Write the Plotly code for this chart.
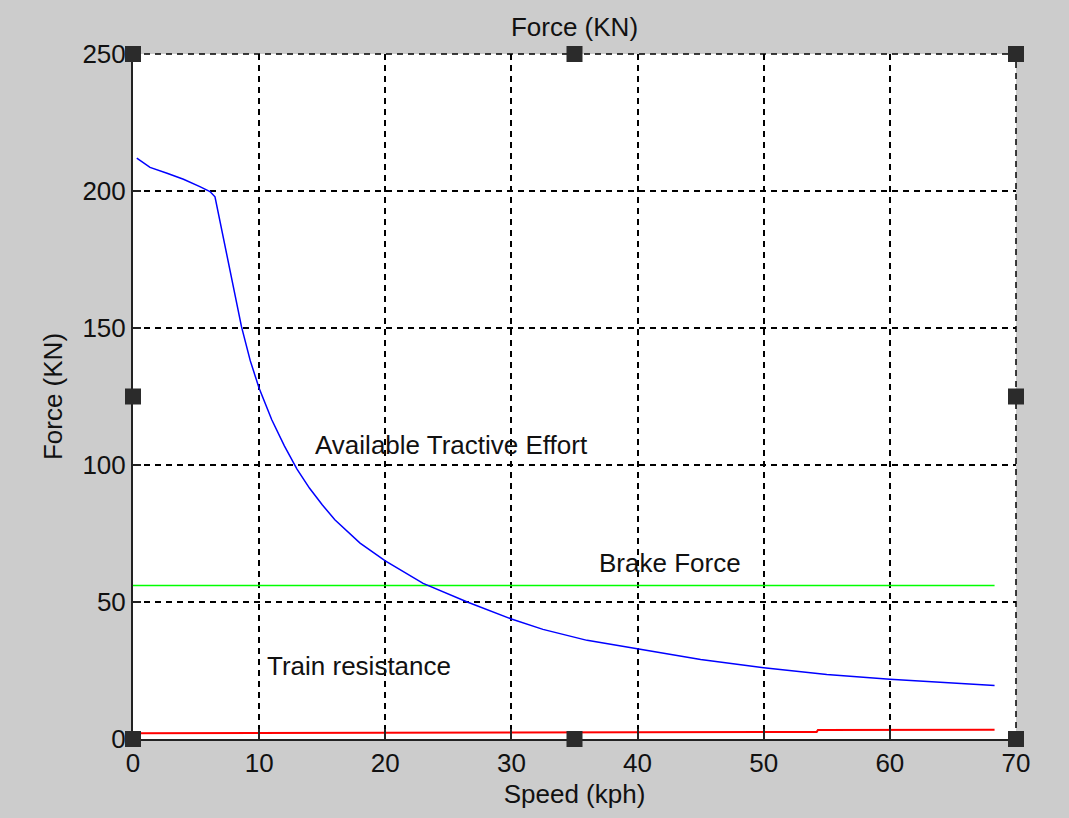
import plotly.graph_objects as go

# ---- data ----
te_speed = [0.3, 1.35, 2.7, 4.0, 5.3, 6.1, 6.5, 6.8, 7.2, 7.45, 7.95, 8.6, 9.3, 10, 11, 12, 13, 14, 15, 16,
            18, 20, 23, 26.5, 30, 32.5, 36, 40, 45, 50, 55, 60, 65, 68.3]
te_force = [212, 208.6, 206.5, 204.3, 201.6, 199.8, 197.9, 191, 182, 176, 165, 150.5, 138, 128, 116.5,
            107, 98.5, 91.5, 85.5, 80, 71.5, 65, 56.8, 50, 43.8, 40, 36, 33, 29, 26, 23.5, 21.8, 20.3, 19.5]

brake_speed = [0, 68.3]
brake_force = [56, 56]

res_speed = [0, 20, 40, 54.2, 54.3, 68.3]
res_force = [2.1, 2.2, 2.4, 2.6, 3.3, 3.4]

x_ticks = [0, 10, 20, 30, 40, 50, 60, 70]
y_ticks = [0, 50, 100, 150, 200, 250]

labels = [("Available Tractive Effort", 14.25, 107.3),
          ("Brake Force", 36.8, 64.2),
          ("Train resistance", 10.5, 26.6)]

FONT = "Liberation Sans, Arial, sans-serif"
FS = 26
BG = "#cccccc"
GRID_DASH = "6px,5px"

fig = go.Figure()
fig.add_trace(go.Scatter(x=res_speed, y=res_force, mode="lines",
                         line=dict(color="#ff0000", width=2), showlegend=False))
fig.add_trace(go.Scatter(x=brake_speed, y=brake_force, mode="lines",
                         line=dict(color="#00ff00", width=1.5), showlegend=False))
fig.add_trace(go.Scatter(x=te_speed, y=te_force, mode="lines",
                         line=dict(color="#0000ff", width=1.5), showlegend=False))

for txt, xx, yy in labels:
    fig.add_annotation(x=xx, y=yy, text=txt, showarrow=False, xanchor="left", yanchor="middle",
                       font=dict(family=FONT, size=FS, color="#111111"))

axis_common = dict(showgrid=True, gridcolor="#000000", gridwidth=1.5, griddash=GRID_DASH,
                   zeroline=False, showline=True, linecolor="#222222", linewidth=2,
                   ticks="inside", tickcolor="#222222", tickwidth=1.5,
                   tickfont=dict(family=FONT, size=FS, color="#111111"))

fig.update_xaxes(range=[0, 70], tickvals=x_ticks, ticklen=10,
                 title=dict(text="Speed (kph)", font=dict(family=FONT, size=FS, color="#111111"), standoff=8),
                 **axis_common)
fig.update_yaxes(range=[0, 250], tickvals=y_ticks, ticklen=8,
                 title=dict(text="Force (KN)", font=dict(family=FONT, size=FS, color="#111111"), standoff=12),
                 **axis_common)

# dashed top and right edges of the axes box (grid lines at the range ends)
fig.add_shape(type="line", xref="paper", yref="paper", x0=0, x1=1, y0=1, y1=1,
              line=dict(color="#000000", width=1.5, dash=GRID_DASH), layer="below")
fig.add_shape(type="line", xref="paper", yref="paper", x0=1, x1=1, y0=0, y1=1,
              line=dict(color="#000000", width=1.5, dash=GRID_DASH), layer="below")

# selection handles (decoration) at corners and edge midpoints of the axes box
for hx in (0, 0.5, 1):
    for hy in (0, 0.5, 1):
        if hx == 0.5 and hy == 0.5:
            continue
        fig.add_shape(type="rect", xref="paper", yref="paper", xsizemode="pixel", ysizemode="pixel",
                      xanchor=hx, yanchor=hy, x0=-8, x1=8, y0=-8, y1=8,
                      fillcolor="#2b2b2b", line=dict(width=0), layer="above")

fig.update_layout(
    width=1069, height=818,
    margin=dict(l=133, r=53, t=54, b=79),
    paper_bgcolor=BG, plot_bgcolor="#ffffff",
    title=dict(text="Force (KN)", x=0.5, xref="paper", xanchor="center",
               y=1 - 27 / 818, yref="container", yanchor="middle",
               font=dict(family=FONT, size=FS, color="#111111")),
    showlegend=False,
)

fig.write_html("out.html")
